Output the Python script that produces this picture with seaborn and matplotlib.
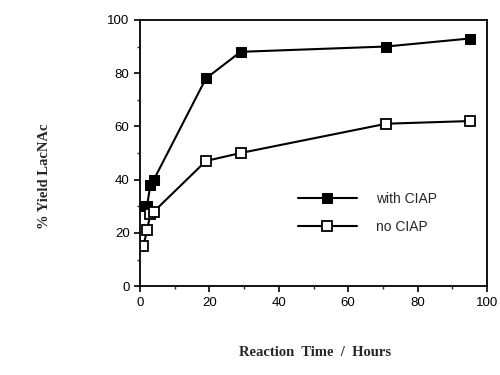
import matplotlib
matplotlib.use("Agg")
import matplotlib.pyplot as plt
import seaborn as sbn
import pandas as pd
from matplotlib.ticker import MultipleLocator

hours = [1, 2, 3, 4, 19, 29, 71, 95]
with_ciap = [30, 30, 38, 40, 78, 88, 90, 93]
no_ciap = [15, 21, 27, 28, 47, 50, 61, 62]

sbn.set_style("ticks")
plt.rcParams['font.family'] = ['Liberation Sans', 'DejaVu Sans']

fig = plt.figure(figsize=(5, 3.75), dpi=100)
ax = fig.add_axes([0.28, 0.237, 0.694, 0.71])

data = pd.DataFrame({"t": hours, "with": with_ciap, "no": no_ciap})
sbn.lineplot(data=data, x="t", y="with", ax=ax, color="black", lw=1.5,
             marker="s", markersize=6.5, markerfacecolor="black",
             markeredgecolor="black", label="with CIAP")
sbn.lineplot(data=data, x="t", y="no", ax=ax, color="black", lw=1.5,
             marker="s", markersize=6.5, markerfacecolor="white",
             markeredgecolor="black", markeredgewidth=1.3, label="no CIAP")

ax.set_xlim(0, 100)
ax.set_ylim(0, 100)
ax.xaxis.set_major_locator(MultipleLocator(20))
ax.yaxis.set_major_locator(MultipleLocator(20))
ax.xaxis.set_minor_locator(MultipleLocator(10))
ax.yaxis.set_minor_locator(MultipleLocator(10))
ax.tick_params(which="major", direction="out", length=4, width=1.2, labelsize=9.5, colors="black")
ax.tick_params(which="minor", direction="out", length=2, width=1)
for s in ax.spines.values():
    s.set_linewidth(1.3)
    s.set_color("black")

ax.set_xlabel("")
ax.set_ylabel("")
fig.text(0.63, 0.06, "Reaction  Time  /  Hours", ha="center", va="center",
         fontsize=10.5, fontweight="bold", family="Liberation Serif")
fig.text(0.09, 0.53, "% Yield LacNAc", ha="center", va="center", rotation=90,
         fontsize=10.5, fontweight="bold", family="Liberation Serif")

ax.legend(loc="upper left", bbox_to_anchor=(0.42, 0.40), frameon=False,
          handlelength=4.2, fontsize=10, labelspacing=1.0, handletextpad=1.4)

fig.savefig("out.png", dpi=100)
